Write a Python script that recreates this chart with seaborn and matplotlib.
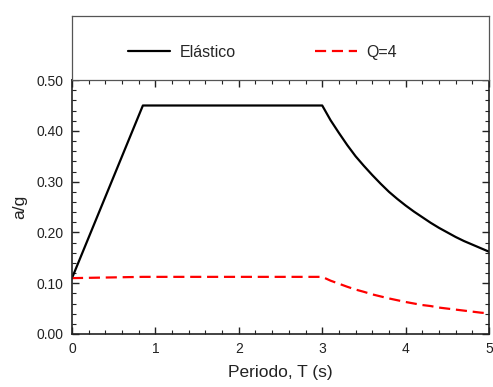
import numpy as np
import pandas as pd
import seaborn as sns
import matplotlib.pyplot as plt
from matplotlib.ticker import MultipleLocator, FormatStrFormatter

# spectrum values
periodo = [0.0, 0.85, 3.0, 3.1, 3.2, 3.3, 3.4, 3.5, 3.6, 3.7, 3.8, 3.9,
           4.0, 4.1, 4.2, 4.3, 4.4, 4.5, 4.6, 4.7, 4.8, 4.9, 5.0]
elastico = [0.110, 0.450, 0.450, 0.421, 0.396, 0.372, 0.350, 0.331, 0.313, 0.296,
            0.280, 0.266, 0.253, 0.241, 0.230, 0.219, 0.209, 0.200, 0.191, 0.183,
            0.176, 0.169, 0.162]
q4 = [0.110, 0.1125, 0.1125, 0.105, 0.099, 0.093, 0.0875, 0.083, 0.078, 0.074,
      0.070, 0.0665, 0.063, 0.060, 0.057, 0.055, 0.052, 0.050, 0.048, 0.046,
      0.044, 0.042, 0.0405]
series_names = ['Elástico', 'Q=4']

df = pd.DataFrame({'T': periodo * 2,
                   'ag': elastico + q4,
                   'serie': [series_names[0]] * len(periodo) + [series_names[1]] * len(periodo)})

sns.set_style('ticks')
plt.rcParams['font.family'] = ['Liberation Sans', 'DejaVu Sans']

fig = plt.figure(figsize=(4.93, 3.87), dpi=100)
ax = fig.add_axes([0.146, 0.137, 0.846, 0.656])
lax = fig.add_axes([0.146, 0.793, 0.846, 0.166])

sns.lineplot(data=df, x='T', y='ag', hue='serie', style='serie',
             palette={'Elástico': 'black', 'Q=4': '#ff0000'},
             dashes={'Elástico': '', 'Q=4': (5, 2.6)},
             linewidth=1.6, ax=ax, legend=False)

ax.set_xlim(0, 5)
ax.set_ylim(0, 0.5)
ax.xaxis.set_major_locator(MultipleLocator(1))
ax.xaxis.set_minor_locator(MultipleLocator(0.2))
ax.yaxis.set_major_locator(MultipleLocator(0.1))
ax.yaxis.set_minor_locator(MultipleLocator(0.02))
ax.yaxis.set_major_formatter(FormatStrFormatter('%.2f'))
ax.tick_params(which='both', direction='in', top=True, right=True,
               labelsize=10, colors='#222222', pad=6)
ax.tick_params(which='major', length=5, width=1)
ax.tick_params(which='minor', length=3, width=0.8)
for s in ax.spines.values():
    s.set_color('#222222')
    s.set_linewidth(1.2)
ax.set_xlabel('Periodo, T (s)', fontsize=12.5, color='#222222', labelpad=6)
ax.set_ylabel('a/g', fontsize=12.5, color='#222222', labelpad=7)

# legend panel above the plot
lax.set_xticks([])
lax.set_yticks([])
for s in lax.spines.values():
    s.set_color('#555555')
    s.set_linewidth(0.9)
handles = ax.get_lines()[:2]
leg = lax.legend(handles, series_names, loc='center', ncol=2, frameon=False,
                 fontsize=11.5, handlelength=2.6, handletextpad=0.6,
                 columnspacing=5.0, bbox_to_anchor=(0.457, 0.43))

fig.savefig('out.png', dpi=100)
